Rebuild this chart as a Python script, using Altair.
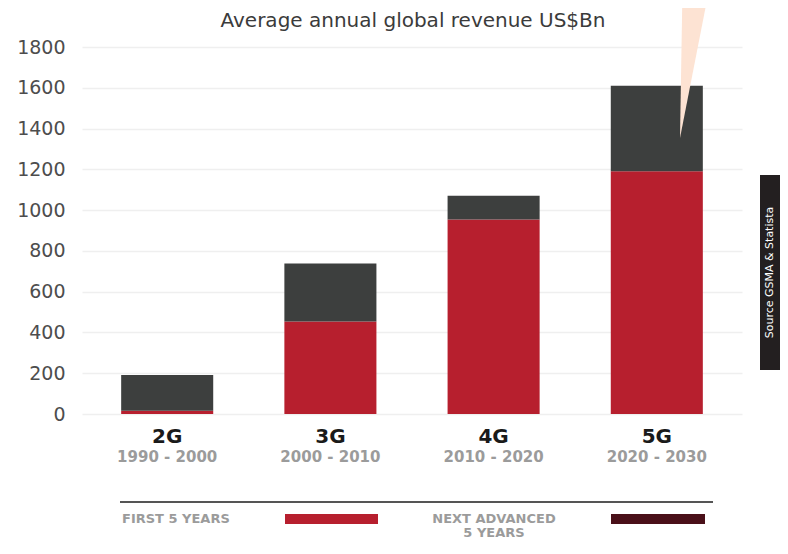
import altair as alt
import pandas as pd

# ---- data ----
generations = ["2G", "3G", "4G", "5G"]
periods = ["1990 - 2000", "2000 - 2010", "2010 - 2020", "2020 - 2030"]
first_five = [16, 454, 954, 1190]          # red segment (first 5 years)
next_advanced = [175, 284, 116, 420]       # dark segment (next advanced 5 years)
series_names = ["First 5 years", "Next advanced 5 years"]
bar_colors = ["#b71f2e", "#3d3f3e"]
legend_colors = ["#b71f2e", "#4a1019"]
y_ticks = [0, 200, 400, 600, 800, 1000, 1200, 1400, 1600, 1800]
title_text = "Average annual global revenue US$Bn"
source_text = "Source GSMA & Statista"
legend_first = "FIRST 5 YEARS"
legend_next = ["NEXT ADVANCED", "5 YEARS"]

rows = []
for g, p, a, b in zip(generations, periods, first_five, next_advanced):
    rows.append({"gen": g, "period": p, "series": series_names[0], "value": a, "ord": 0})
    rows.append({"gen": g, "period": p, "series": series_names[1], "value": b, "ord": 1})
df = pd.DataFrame(rows)
df_years = pd.DataFrame({"gen": generations, "period": periods})
one = pd.DataFrame({"k": [0]})

W, H = 660, 367
FONT = "DejaVu Sans"

x_scale = alt.Scale(domain=generations, range=[4, 664], paddingInner=0.436, paddingOuter=0.24)
x_axis = alt.Axis(title=None, domain=False, ticks=False, grid=False, labelAngle=0,
                  labelFont=FONT, labelFontSize=20, labelFontWeight="bold",
                  labelColor="#1a1a1a", labelPadding=12)
x_enc = alt.X("gen:N", scale=x_scale, axis=x_axis)

bars = alt.Chart(df).mark_bar().encode(
    x=x_enc,
    y=alt.Y("value:Q", stack="zero",
            scale=alt.Scale(domain=[0, 1800], nice=False),
            axis=alt.Axis(values=y_ticks, format="d", title=None, domain=False, ticks=False,
                          labelFont=FONT, labelFontSize=19, labelColor="#4d4d4d",
                          labelPadding=13, gridColor="#efefef", gridWidth=1.5)),
    color=alt.Color("series:N", scale=alt.Scale(domain=series_names, range=bar_colors), legend=None),
    order=alt.Order("ord:Q", sort="ascending"),
)

years = alt.Chart(df_years).mark_text(
    font=FONT, fontSize=15, fontWeight="bold", color="#9b9b9b", baseline="alphabetic"
).encode(x=x_enc, y=alt.value(414.5), text="period:N")

title = alt.Chart(one).mark_text(
    text=title_text, font=FONT, fontSize=20, color="#3b3b3b", align="center", baseline="alphabetic"
).encode(x=alt.value(335), y=alt.value(-20))

tri = pd.DataFrame({"ty": [-47, 91], "tx": [604.3, 602], "tx2": [629, 602]})
triangle = alt.Chart(tri).mark_area(orient="horizontal", color="#fde3d3").encode(
    y=alt.Y("ty:Q", scale=None, axis=None),
    x=alt.X("tx:Q", scale=None, axis=None),
    x2="tx2:Q",
)

src_box = alt.Chart(one).mark_rect(color="#231f20").encode(
    x=alt.value(682), x2=alt.value(702), y=alt.value(128), y2=alt.value(323))
src_txt = alt.Chart(one).mark_text(
    text=source_text, angle=270, color="white", font=FONT, fontSize=11,
    align="center", baseline="middle"
).encode(x=alt.value(692), y=alt.value(225.5))

leg_line = alt.Chart(one).mark_rule(color="#555555", strokeWidth=2).encode(
    x=alt.value(42), x2=alt.value(635), y=alt.value(455))
leg_t1 = alt.Chart(one).mark_text(
    text=legend_first, font=FONT, fontSize=13, fontWeight="bold", color="#9b9b9b",
    align="left", baseline="middle").encode(x=alt.value(44), y=alt.value(472))
leg_t2a = alt.Chart(one).mark_text(
    text=legend_next[0], font=FONT, fontSize=13, fontWeight="bold", color="#9b9b9b",
    align="center", baseline="middle").encode(x=alt.value(416), y=alt.value(472))
leg_t2b = alt.Chart(one).mark_text(
    text=legend_next[1], font=FONT, fontSize=13, fontWeight="bold", color="#9b9b9b",
    align="center", baseline="middle").encode(x=alt.value(416), y=alt.value(486))
leg_s1 = alt.Chart(one).mark_rect(color=legend_colors[0]).encode(
    x=alt.value(207), x2=alt.value(300), y=alt.value(467), y2=alt.value(477))
leg_s2 = alt.Chart(one).mark_rect(color=legend_colors[1]).encode(
    x=alt.value(533), x2=alt.value(627), y=alt.value(467), y2=alt.value(477))

chart = alt.layer(
    bars, years, triangle, title, src_box, src_txt,
    leg_line, leg_t1, leg_t2a, leg_t2b, leg_s1, leg_s2
).properties(
    width=W, height=H,
    autosize=alt.AutoSizeParams(type="none"),
    padding={"left": 70, "top": 39, "right": 42, "bottom": 126},
).configure_view(stroke=None)

chart.save("out.html", embed_options={"renderer": "svg", "actions": False})
